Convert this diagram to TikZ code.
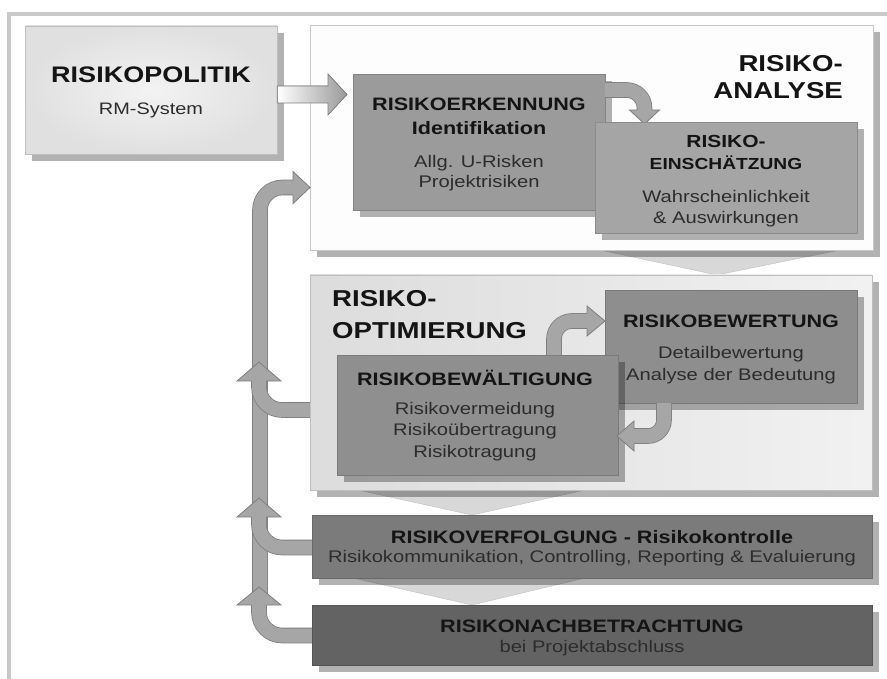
\documentclass[tikz,border=0pt]{standalone}
\usepackage{fontspec}
\setmainfont{Liberation Sans}[FakeStretch=1.2]
\usetikzlibrary{shadows}
\definecolor{framec}{HTML}{C9C9C9}
\definecolor{polfill}{HTML}{E0E0E0}
\definecolor{anafill}{HTML}{FDFDFD}
\definecolor{anaedge}{HTML}{C8C8C8}
\definecolor{erkfill}{HTML}{9B9B9B}
\definecolor{einfill}{HTML}{A5A5A5}
\definecolor{optfill}{HTML}{E8E8E8}
\definecolor{bewfill}{HTML}{8E8E8E}
\definecolor{balfill}{HTML}{8F8F8F}
\definecolor{verfill}{HTML}{7B7B7B}
\definecolor{nacfill}{HTML}{636363}
\definecolor{funnelc}{HTML}{D8D8D8}
\definecolor{arrowfill}{HTML}{A6A6A6}
\definecolor{arrowline}{HTML}{7E7E7E}
\definecolor{titlec}{HTML}{141414}
\definecolor{subc}{HTML}{2C2C2C}
\newcommand\bhead[4]{%
  \begin{scope}[shift={#1}, rotate=#2]
    \fill[arrowfill] (0,0) -- (-#3,#4) -- (-#3,-#4) -- cycle;
    \draw[arrowline, line width=0.8pt, line join=miter] (-#3,7.4) -- (-#3,#4) -- (0,0) -- (-#3,-#4) -- (-#3,-7.4);
  \end{scope}}
\tikzset{
  shad/.style={drop shadow={shadow xshift=7pt, shadow yshift=-7pt, opacity=0.3, fill=black}},
  box/.style={rectangle, inner sep=0pt, shad, draw=#1!85!black, line width=0.5pt, fill=#1},
  tb/.style={anchor=base, inner sep=0pt, text=titlec, font=\bfseries\fontsize{18}{20}\selectfont},
  tr/.style={anchor=base, inner sep=0pt, text=subc, font=\fontsize{16.8}{19}\selectfont},
  big/.style={inner sep=0pt, text=titlec, font=\bfseries\fontsize{23}{25}\selectfont},
  band/.style={line width=0.8pt, draw=arrowline, double=arrowfill, double distance=14pt},
  funnel/.style={fill=funnelc, draw=black!25, line width=0.4pt}
}
\begin{document}
\begin{tikzpicture}[x=1pt,y=-1pt]
\useasboundingbox (0,0) rectangle (887,679);
\fill[white] (0,0) rectangle (887,679);
\begin{scope}
  \clip (0,0) rectangle (887,679);
  \draw[framec, line width=4pt] (9,14) rectangle (905,700);
\end{scope}

% RISIKOPOLITIK
\node[box=polfill, inner color=polfill!40, outer color=polfill, minimum width=252pt, minimum height=128pt] (pol) at (151,90) {};
\node[anchor=base, inner sep=0pt, text=titlec, font=\bfseries\fontsize{22.5}{24}\selectfont] (polt) at (151,82.5) {RISIKOPOLITIK};
\node[tr, font=\fontsize{16.6}{18}\selectfont] (pols) at (151,115) {RM-System};

% RISIKO-ANALYSE
\fill[funnel] (600,250) -- (840,250) -- (717,275) -- cycle;
\node[box=anafill, draw=anaedge, minimum width=563pt, minimum height=225pt] (ana) at (591.5,137.5) {};
\node[big, anchor=base east] (anat1) at (843,72) {RISIKO-};
\node[big, anchor=base east] (anat2) at (843,98.5) {ANALYSE};

% arrow Politik -> Analyse
\filldraw[left color=white, right color=black!40, draw=arrowline, line width=0.7pt]
  (pol.east |- 0,86) -- (328,86) -- (328,74) -- (347,94.5) -- (328,115) -- (328,103) -- (pol.east |- 0,103) -- cycle;

% Erkennung
\node[box=erkfill, minimum width=252pt, minimum height=136pt] (erk) at (479,142) {};
\node[tb] (erk1) at (479,111) {RISIKOERKENNUNG};
\node[tb] (erk2) at (479,134.5) {Identifikation};
\node[tr] (erk3) at (479,167.5) {Allg. U-Risken};
\node[tr] (erk4) at (479,188) {Projektrisiken};

% arrow Erkennung -> Einschaetzung
\draw[band] (605,90) -- (626.5,90) arc[start angle=270, end angle=360, radius=18] -- (644.5,110);
\bhead{(644.5,124)}{270}{14}{15}

% Einschaetzung
\node[box=einfill, minimum width=262pt, minimum height=111pt] (ein) at (726,177.5) {};
\node[tb, font=\bfseries\fontsize{17.5}{19}\selectfont] (ein1) at (726,147.5) {RISIKO-};
\node[tb, font=\bfseries\fontsize{16}{18}\selectfont] (ein2) at (726,170) {EINSCHÄTZUNG};
\node[tr] (ein3) at (726,202.5) {Wahrscheinlichkeit};
\node[tr] (ein4) at (726,223.5) {\& Auswirkungen};

% RISIKO-OPTIMIERUNG
\fill[funnel] (358,490) -- (585,490) -- (472,515) -- cycle;
\node[box=optfill, draw=black!25, left color=optfill!95!black, right color=optfill!60, minimum width=562pt, minimum height=215pt] (opt) at (591,382.5) {};
\node[big, anchor=base west] (optt1) at (332,307) {RISIKO-};
\node[big, anchor=base west] (optt2) at (332,338) {OPTIMIERUNG};

% Bewertung
\node[box=bewfill, minimum width=252pt, minimum height=113pt] (bew) at (731,346.5) {};
\node[tb] (bew1) at (731,328) {RISIKOBEWERTUNG};
\node[tr] (bew2) at (731,358.5) {Detailbewertung};
\node[tr] (bew3) at (731,380) {Analyse der Bedeutung};

% Bewaeltigung
\node[box=balfill, minimum width=281pt, minimum height=120pt] (bal) at (477.5,415) {};
\node[tb] (bal1) at (475,385) {RISIKOBEWÄLTIGUNG};
\node[tr] (bal2) at (475,414) {Risikovermeidung};
\node[tr] (bal3) at (475,435.5) {Risikoübertragung};
\node[tr] (bal4) at (475,457) {Risikotragung};

% arrows inside Optimierung
\draw[band] (554,355) -- (554,339) arc[start angle=180, end angle=270, radius=18] -- (587,321);
\bhead{(605,321)}{0}{18}{15}
\draw[band] (664,403) -- (664,420) arc[start angle=0, end angle=90, radius=16] -- (634,436);
\bhead{(617,436)}{180}{17}{15}

% Verfolgung
\fill[funnel] (353,578) -- (585,578) -- (472,605) -- cycle;
\node[box=verfill, minimum width=560pt, minimum height=63pt] (ver) at (592,546.5) {};
\node[tb] (ver1) at (592,543) {RISIKOVERFOLGUNG - Risikokontrolle};
\node[tr] (ver2) at (592,562) {Risikokommunikation, Controlling, Reporting \& Evaluierung};

% Nachbetrachtung
\node[box=nacfill, minimum width=560pt, minimum height=60pt] (nac) at (592,635) {};
\node[tb] (nac1) at (592,632) {RISIKONACHBETRACHTUNG};
\node[tr] (nac2) at (592,652) {bei Projektabschluss};

% feedback loop
\draw[band] (260,598) -- (260,210) arc[start angle=180, end angle=270, radius=22.5] -- (293,187.5);
\bhead{(310,187.5)}{0}{17}{16}

\draw[band] (opt.west |- 0,410) -- (282,410) arc[start angle=90, end angle=180, radius=23] -- (259,381);
\bhead{(259,362)}{90}{19}{22}
\draw[band] (ver.west |- 0,547.5) -- (282,547.5) arc[start angle=90, end angle=180, radius=23] -- (259,517);
\bhead{(259,498)}{90}{19}{22}
\draw[band] (nac.west |- 0,635.5) -- (282,635.5) arc[start angle=90, end angle=180, radius=23] -- (259,605);
\bhead{(259,587)}{90}{18}{22}
\end{tikzpicture}
\end{document}
